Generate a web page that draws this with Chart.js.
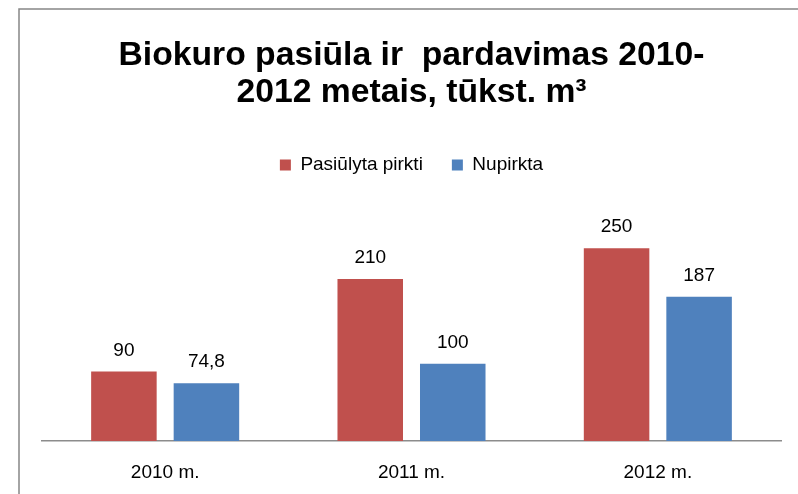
<!DOCTYPE html>
<html>
<head>
<meta charset="utf-8">
<script src="https://cdn.jsdelivr.net/npm/chart.js@4/dist/chart.umd.min.js"></script>
<style>
  html, body { margin: 0; padding: 0; background: #fff; }
  #wrap { width: 798px; height: 494px; position: relative; }
</style>
</head>
<body>
<div id="wrap"><canvas id="c" width="798" height="494"></canvas></div>
<script>
const titleLines = ['Biokuro pasiūla ir  pardavimas 2010-', '2012 metais, tūkst. m³'];
const categories = ['2010 m.', '2011 m.', '2012 m.'];
const seriesNames = ['Pasiūlyta pirkti', 'Nupirkta'];
const offered = [90, 210, 250];
const bought = [74.8, 100, 187];

const FONT = "'Liberation Sans', Arial, sans-serif";
Chart.defaults.font.family = FONT;
Chart.defaults.color = '#000';

const framePlugin = {
  id: 'frame',
  beforeDraw(chart) {
    const ctx = chart.ctx;
    ctx.save();
    ctx.fillStyle = '#fff';
    ctx.fillRect(0, 0, chart.width, chart.height);
    ctx.strokeStyle = '#878787';
    ctx.lineWidth = 1.5;
    ctx.beginPath();
    ctx.moveTo(19, chart.height + 5);
    ctx.lineTo(19, 9);
    ctx.lineTo(chart.width + 5, 9);
    ctx.stroke();
    ctx.restore();
  }
};

const labelPlugin = {
  id: 'valueLabels',
  afterDatasetsDraw(chart) {
    const ctx = chart.ctx;
    ctx.save();
    ctx.font = '19px ' + FONT;
    ctx.fillStyle = '#000';
    ctx.textAlign = 'center';
    ctx.textBaseline = 'alphabetic';
    chart.data.datasets.forEach((ds, di) => {
      const meta = chart.getDatasetMeta(di);
      meta.data.forEach((bar, i) => {
        const txt = String(ds.data[i]).replace('.', ',');
        ctx.fillText(txt, bar.x, bar.y - 16);
      });
    });
    ctx.restore();
  }
};

new Chart(document.getElementById('c'), {
  type: 'bar',
  data: {
    labels: categories,
    datasets: [
      { label: seriesNames[0], data: offered, backgroundColor: '#C0504D', borderWidth: 0 },
      { label: seriesNames[1], data: bought, backgroundColor: '#4F81BD', borderWidth: 0 }
    ]
  },
  options: {
    responsive: false,
    animation: false,
    datasets: { bar: { categoryPercentage: 0.67, barPercentage: 0.794 } },
    layout: { padding: { left: 42, right: 17, top: 0, bottom: 11 } },
    plugins: {
      title: {
        display: true,
        text: titleLines,
        color: '#000',
        font: { family: FONT, size: 33.7, weight: 'bold', lineHeight: 37 / 33.7 },
        padding: { top: 37.5, bottom: 15 }
      },
      legend: {
        display: true,
        position: 'top',
        labels: {
          boxWidth: 11,
          boxHeight: 11,
          padding: 29,
          color: '#000',
          font: { family: FONT, size: 19 }
        }
      },
      tooltip: { enabled: false }
    },
    scales: {
      x: {
        grid: { display: false, drawTicks: false },
        border: { display: true, color: '#8c8c8c', width: 1.5 },
        ticks: { color: '#000', font: { family: FONT, size: 19 }, padding: 20.6 },
        afterFit(scale) { scale.height = 42; }
      },
      y: {
        display: false,
        min: 0,
        max: 332.5
      }
    }
  },
  plugins: [framePlugin, labelPlugin]
});
</script>
</body>
</html>
